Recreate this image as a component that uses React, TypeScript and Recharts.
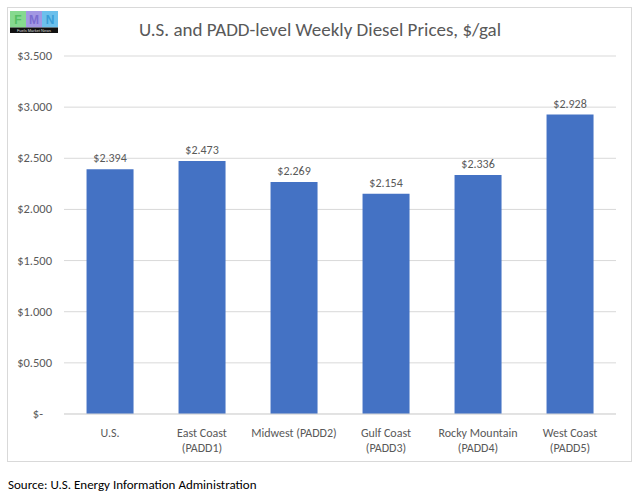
import React from "react";
import { BarChart, Bar, XAxis, YAxis, CartesianGrid, LabelList } from "recharts";

const categories = [
  "U.S.",
  "East Coast|(PADD1)",
  "Midwest (PADD2)",
  "Gulf Coast|(PADD3)",
  "Rocky Mountain|(PADD4)",
  "West Coast|(PADD5)",
];
const prices = [2.394, 2.473, 2.269, 2.154, 2.336, 2.928];
const yTicks = [0, 0.5, 1, 1.5, 2, 2.5, 3, 3.5];

const data = categories.map((c, i) => ({ name: c, price: prices[i] }));

const FONT = "Carlito, Lato, 'Open Sans', sans-serif";
const GRAY = "#595959";

const fmt = (v: number) => (v === 0 ? "$-" : "$" + v.toFixed(3));

const YTick = (props: any) => {
  const { x, y, payload } = props;
  const v = payload.value as number;
  return (
    <text
      x={v === 0 ? x - 9 : x}
      y={y}
      dy={4}
      textAnchor="end"
      fill={GRAY}
      fontSize={12.5}
      fontFamily={FONT}
    >
      {fmt(v)}
    </text>
  );
};

const XTick = (props: any) => {
  const { x, y, payload } = props;
  const lines = String(payload.value).split("|");
  return (
    <text textAnchor="middle" fill={GRAY} fontSize={12} fontFamily={FONT}>
      {lines.map((l, i) => (
        <tspan key={i} x={x} y={y + 23 + i * 15}>
          {l}
        </tspan>
      ))}
    </text>
  );
};

const Logo = () => (
  <svg width={48} height={22} style={{ position: "absolute", left: 10, top: 11 }}>
    <rect x={0} y={0} width={16} height={16.5} fill="#86d98f" />
    <rect x={16} y={0} width={16} height={16.5} fill="#a297e3" />
    <rect x={32} y={0} width={16} height={16.5} fill="#6cc0ec" />
    <text x={8} y={12.5} textAnchor="middle" fontSize={12} fontWeight="bold" fill="#55bf63" fontFamily="Liberation Sans">F</text>
    <text x={24} y={12.5} textAnchor="middle" fontSize={12} fontWeight="bold" fill="#7a6cd0" fontFamily="Liberation Sans">M</text>
    <text x={40} y={12.5} textAnchor="middle" fontSize={12} fontWeight="bold" fill="#389dd6" fontFamily="Liberation Sans">N</text>
    <rect x={0} y={16.5} width={48} height={5.5} fill="#111" />
    <text x={24} y={21.3} textAnchor="middle" fontSize={4} fill="#ddd" fontFamily="Liberation Sans">Fuels Market News</text>
  </svg>
);

export default function App() {
  return (
    <div style={{ position: "absolute", left: 0, top: 0, width: 640, height: 495, background: "#fff" }}>
      <div
        style={{
          position: "absolute",
          left: 7,
          top: 7,
          width: 623,
          height: 453,
          border: "1px solid #d9d9d9",
          boxSizing: "content-box",
        }}
      />
      <Logo />
      <div
        style={{
          position: "absolute",
          left: 0,
          top: 19,
          width: 640,
          textAlign: "center",
          fontFamily: FONT,
          fontSize: 19,
          color: GRAY,
          lineHeight: "22px",
        }}
      >
        U.S. and PADD-level Weekly Diesel Prices, $/gal
      </div>
      <div style={{ position: "absolute", left: 0, top: 0 }}>
        <BarChart
          width={640}
          height={470}
          data={data}
          margin={{ top: 56, right: 24, bottom: 16, left: 0 }}
          barCategoryGap="24.5%"
        >
          <CartesianGrid vertical={false} stroke="#d9d9d9" />
          <XAxis
            dataKey="name"
            height={40}
            tickLine={false}
            axisLine={{ stroke: "#d9d9d9" }}
            tickSize={0}
            tickMargin={0}
            interval={0}
            tick={<XTick />}
          />
          <YAxis
            width={64}
            domain={[0, 3.5]}
            ticks={yTicks}
            axisLine={false}
            tickLine={false}
            tickSize={0}
            tickMargin={12}
            tick={<YTick />}
          />
          <Bar dataKey="price" fill="#4472C4" isAnimationActive={false}>
            <LabelList
              dataKey="price"
              position="top"
              offset={7}
              formatter={(v: any) => "$" + Number(v).toFixed(3)}
              fill={GRAY}
              fontSize={12}
              fontFamily={FONT}
            />
          </Bar>
        </BarChart>
      </div>
      <div
        style={{
          position: "absolute",
          left: 8,
          top: 477,
          fontFamily: FONT,
          fontSize: 13,
          color: "#000",
          lineHeight: "16px",
          whiteSpace: "nowrap",
        }}
      >
        Source: U.S. Energy Information Administration
      </div>
    </div>
  );
}
